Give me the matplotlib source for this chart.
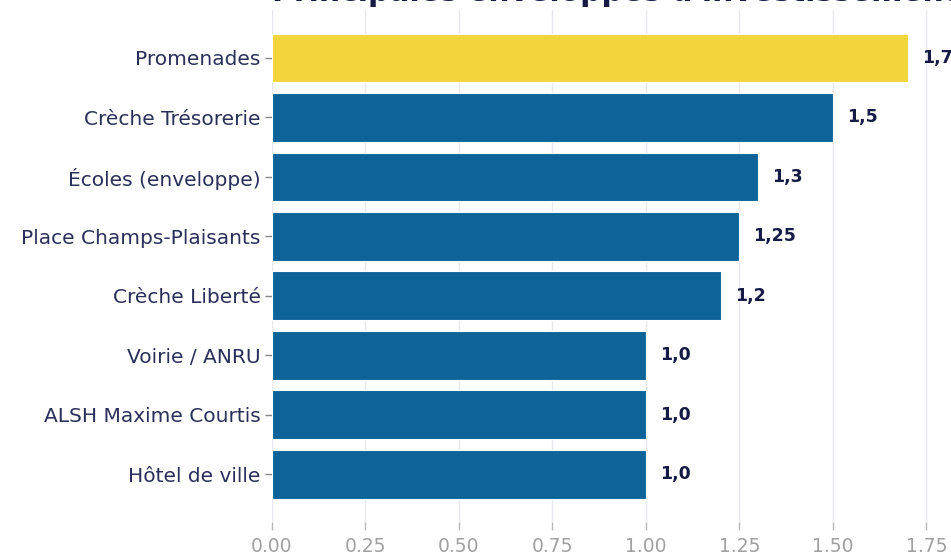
import matplotlib
matplotlib.use("Agg")
import matplotlib.pyplot as plt

categories = ["Promenades", "Crèche Trésorerie", "Écoles (enveloppe)",
              "Place Champs-Plaisants", "Crèche Liberté", "Voirie / ANRU",
              "ALSH Maxime Courtis", "Hôtel de ville"]
values = [1.7, 1.5, 1.3, 1.25, 1.2, 1.0, 1.0, 1.0]
highlight = "Promenades"
xticks = [0.0, 0.25, 0.5, 0.75, 1.0, 1.25, 1.5, 1.75]
title = "Principales enveloppes d'investissement"

BLUE = "#0e6399"
YELLOW = "#f2d43c"
NAVY = "#2a2f5a"
DARK = "#161b45"

plt.rcParams['font.family'] = ['DejaVu Sans']

fig = plt.figure(figsize=(9.51, 5.55), dpi=100)
ax = fig.add_axes([0.286, 0.0595, 0.722, 0.922])

colors = [YELLOW if c == highlight else BLUE for c in categories]
ypos = list(range(len(categories)))
ax.barh(ypos, values, height=0.82, color=colors, edgecolor="white",
        linewidth=0.8, zorder=3)

ax.set_yticks(ypos)
ax.set_yticklabels(categories, fontsize=14.5, color=NAVY)
ax.invert_yaxis()

ax.set_xlim(0, 1.836)
ax.set_xticks(xticks)
ax.set_xticklabels([f"{t:.2f}" for t in xticks], fontsize=13.5, color="#a0a0a0")

def fmt(v):
    s = f"{v:.2f}".rstrip("0")
    if s.endswith("."):
        s += "0"
    return s.replace(".", ",")

for y, v in zip(ypos, values):
    ax.text(v + 0.037, y, fmt(v), va="center", ha="left", fontsize=12.5,
            fontweight="bold", color=DARK, zorder=4)

for s in ax.spines.values():
    s.set_visible(False)
ax.grid(axis="x", color="#e8e8ee", linewidth=1.0, zorder=0)
ax.grid(axis="y", visible=False)
ax.tick_params(axis="x", length=6, width=1, color="#b8b8b8", pad=5)
ax.tick_params(axis="y", length=5, width=1, color="#888888", pad=3)

ax.set_title(title, fontsize=21.5, fontweight="bold", color=DARK, pad=7)

fig.savefig("out.png", dpi=100)
